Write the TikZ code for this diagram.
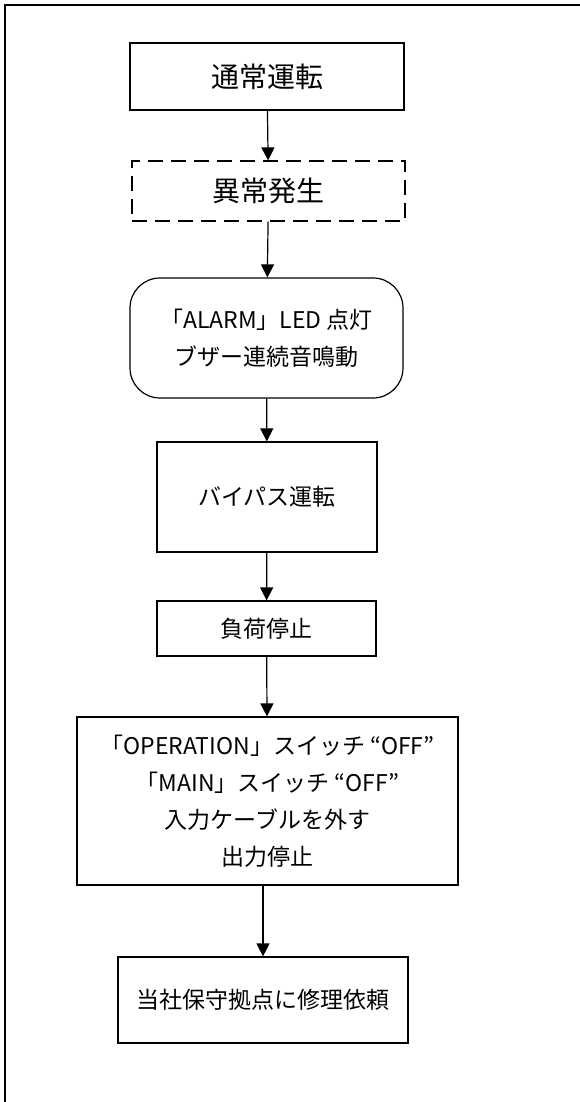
\documentclass[tikz,border=0pt]{standalone}
\usepackage{fontspec}
\setmainfont{Noto Sans CJK JP}
\usetikzlibrary{arrows.meta}

\begin{document}
\begin{tikzpicture}[x = 1pt, y = -1pt, line width = 1.2pt,
    box/.style = {draw, rectangle, inner sep = 0pt, align = center},
    big/.style = {font = \fontsize{28}{34}\selectfont},
    small/.style = {font = \fontsize{23}{37}\selectfont},
    flow/.style = {-{Triangle[length = 13pt, width = 13pt]}}]
\useasboundingbox (0,0) rectangle (580,1102);
% frame
\draw [line width = 2.6pt] (580,5) -- (5,5) -- (5,1102);
\draw (267,76.5) node[box, big, minimum width = 274pt, minimum height = 67pt](f1){通常運転}
    (268.5,191) node[box, big, dash pattern = on 15pt off 8pt, minimum width = 273pt, minimum height = 60pt](f2){異常発生}
    (266.5,338) node[box, small, rounded corners = 30pt, minimum width = 273pt, minimum height = 120pt](f3){「ALARM」LED 点灯\\ブザー連続音鳴動}
    (267,497) node[box, small, minimum width = 220pt, minimum height = 110pt](f4){バイパス運転}
    (266.5,628.5) node[box, small, minimum width = 219pt, minimum height = 55pt](f5){負荷停止}
    (267.5,801) node[box, small, minimum width = 381pt, minimum height = 168pt](f6){「OPERATION」スイッチ “OFF”\\「MAIN」スイッチ “OFF”\\入力ケーブルを外す\\出力停止}
    (263,1000) node[box, small, minimum width = 290pt, minimum height = 86pt](f7){当社保守拠点に修理依頼};
    \draw [flow] (f1) -- (f2);
    \draw [flow] (f2) -- (f3);
    \draw [flow] (f3) -- (f4);
    \draw [flow] (f4) -- (f5);
    \draw [flow] (f5) -- (f6);
    \draw [flow] (f6.south -| f7.north) -- (f7.north);
\end{tikzpicture}
\end{document}
